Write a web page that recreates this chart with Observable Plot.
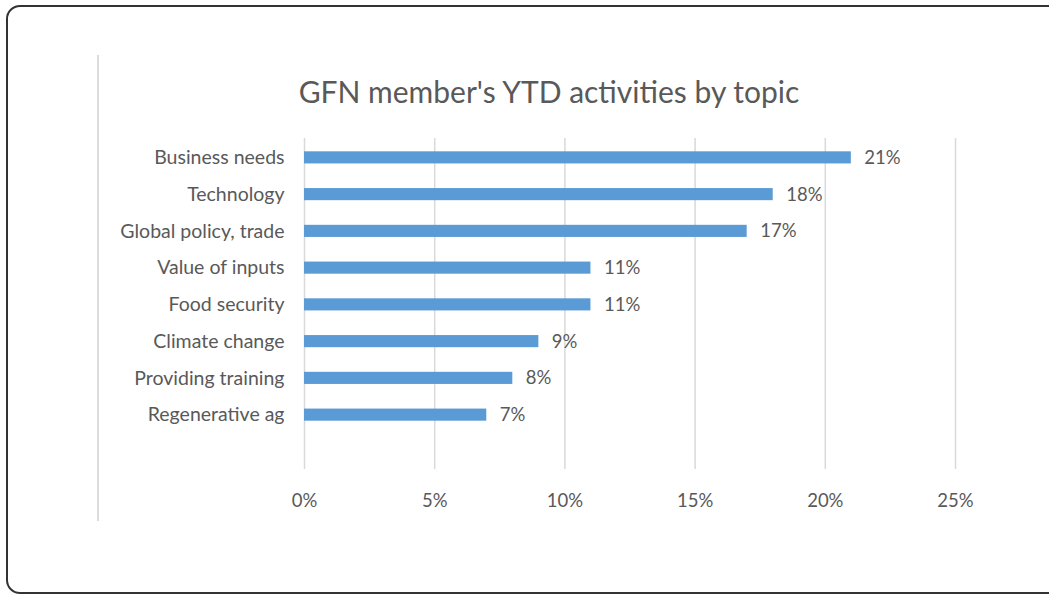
<!DOCTYPE html>
<html>
<head>
<meta charset="utf-8">
<script src="https://cdn.jsdelivr.net/npm/d3@7"></script>
<script src="https://cdn.jsdelivr.net/npm/@observablehq/plot@0.6"></script>
<style>
  html, body { margin: 0; padding: 0; background: #fff; }
  #wrap { position: relative; width: 1049px; height: 597px; overflow: hidden; font-family: Lato, "Open Sans", sans-serif; }
  #border { position: absolute; left: 6px; top: 5px; width: 1080px; height: 589px; border: 2px solid #333; border-radius: 14px; box-sizing: border-box; }
  #vline { position: absolute; left: 97px; top: 55px; width: 2px; height: 466px; background: #dcdcdc; }
  #title { position: absolute; left: 0; top: 73px; width: 1098px; text-align: center; font-size: 30px; line-height: 36px; color: #595959; }
  #chart { position: absolute; left: 0; top: 0; }
</style>
</head>
<body>
<div id="wrap">
  <div id="border"></div>
  <div id="vline"></div>
  <div id="title">GFN member's YTD activities by topic</div>
  <div id="chart"></div>
</div>
<script>
const topics = ["Business needs", "Technology", "Global policy, trade", "Value of inputs", "Food security", "Climate change", "Providing training", "Regenerative ag"];
const shares = [21, 18, 17, 11, 11, 9, 8, 7];
const xTicks = [0, 5, 10, 15, 20, 25];

const data = topics.map((t, i) => ({topic: t, value: shares[i]}));

const plot = Plot.plot({
  width: 1049,
  height: 597,
  marginLeft: 304,
  marginRight: 94,
  marginTop: 139,
  marginBottom: 164,
  style: {fontFamily: "Lato, 'Open Sans', sans-serif", background: "transparent", color: "#595959"},
  x: {domain: [0, 25], ticks: xTicks, tickFormat: d => d + "%", label: null},
  y: {domain: topics, paddingInner: 0.67, paddingOuter: 0.335, round: false, label: null},
  marks: [
    Plot.ruleX(xTicks, {stroke: "#d9d9d9", strokeWidth: 1.5, insetTop: -1, insetBottom: -36}),
    Plot.barX(data, {x: "value", y: "topic", fill: "#5b9bd5"}),
    Plot.text(data, {x: "value", y: "topic", text: d => d.value + "%", textAnchor: "start", dx: 13, fontSize: 18.5, fill: "#595959"}),
    Plot.axisX({ticks: xTicks, tickFormat: d => d + "%", tickSize: 0, tickPadding: 60, fontSize: 18.5, fill: "#595959", label: null}),
    Plot.axisY({tickSize: 0, tickPadding: 20, fontSize: 19.5, fill: "#595959", label: null})
  ]
});
document.getElementById("chart").appendChild(plot);
</script>
</body>
</html>
